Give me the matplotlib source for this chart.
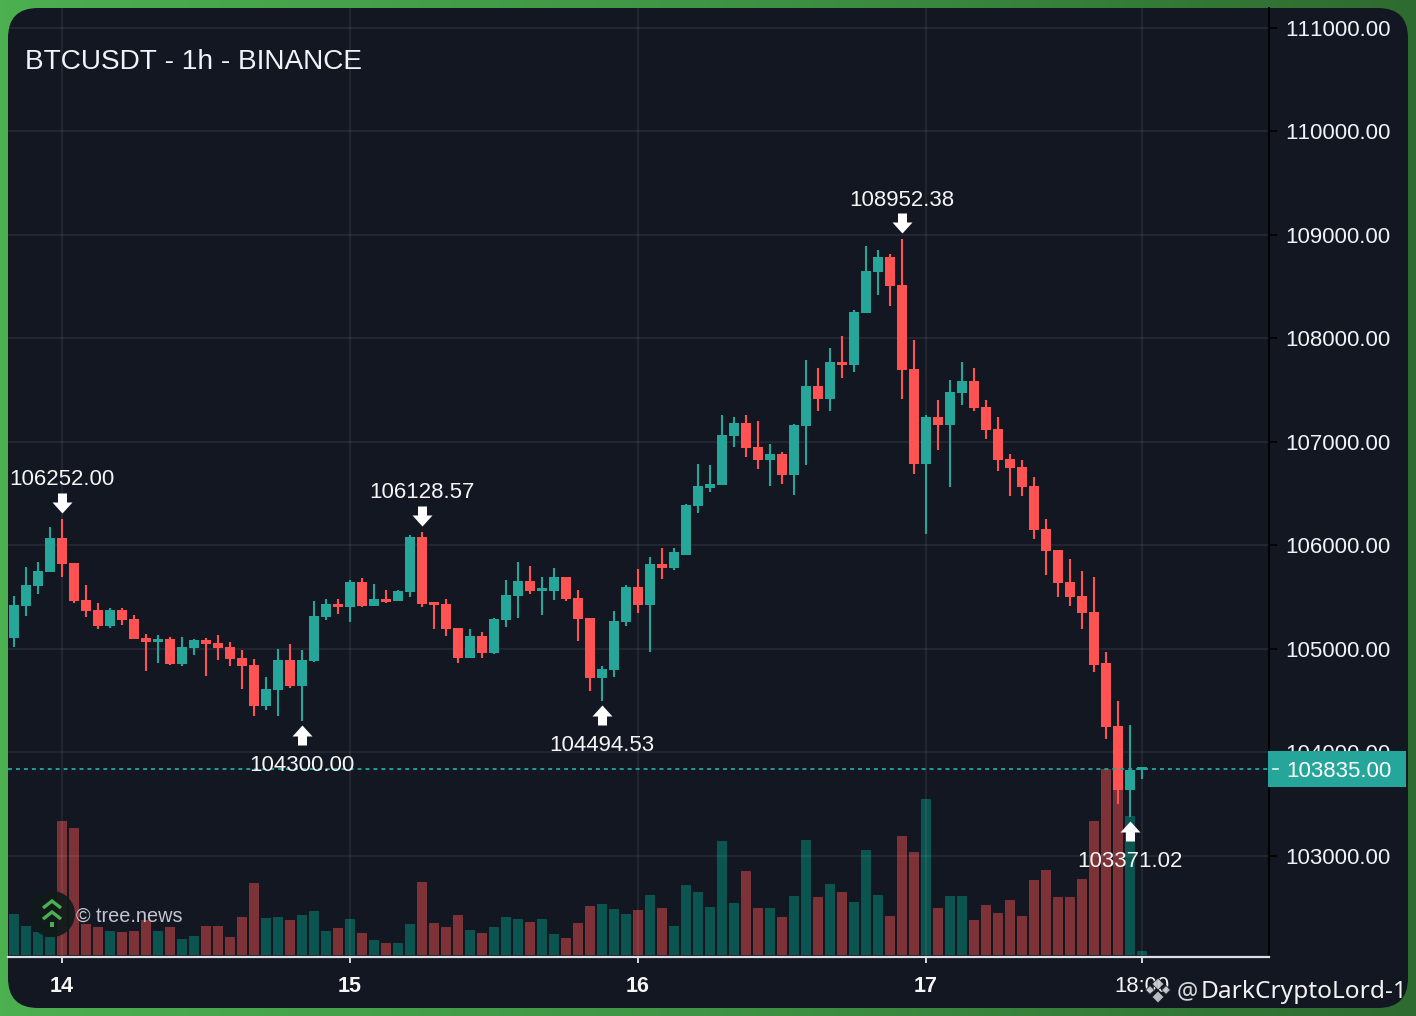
import numpy as np
import matplotlib
matplotlib.use("Agg")
import matplotlib.pyplot as plt
from matplotlib.colors import LinearSegmentedColormap
from matplotlib.patches import FancyBboxPatch, Rectangle, Circle, Polygon
from matplotlib.path import Path
from matplotlib.transforms import offset_copy, blended_transform_factory

plt.rcParams['font.family'] = ['Liberation Sans', 'DejaVu Sans']
plt.rcParams['text.kerning_factor'] = 10

# hourly candles, index 0 is the "14" tick
first_idx = -4
opens = [105106,105415,105608,105743,106064,105823,105470,105373,105219,105373,105286,105103,105064,105093,104852,105007,
 105084,105055,105016,104910,104843,104447,104601,104891,104640,104878,105306,105431,105405,105646,105412,105482,105460,
 105543,106074,105444,105431,105200,104910,105122,104955,105277,105508,105653,105556,105556,105691,105489,105296,104717,
 104794,105257,105595,105421,105817,105783,105908,106380,106556,106582,107055,107180,106949,106823,106881,106678,107151,
 107537,107412,107768,107739,108241,108636,108781,108511,107701,106785,107238,107161,107469,107585,107334,107122,106833,
 106756,106572,106158,105955,105646,105511,105357,104856,104248,103631,103830]
highs = [105508,105785,105833,106170,106252,105825,105611,105437,105389,105389,105325,105142,105129,105110,105110,105093,
 105100,105132,105065,104987,104897,104724,104994,105045,104987,105457,105476,105476,105662,105678,105621,105566,105566,
 106093,106128.57,105450,105476,105200,105187,105158,105296,105662,105836,105797,105691,105778,105691,105566,105296,104833,
 105363,105614,105769,105884,105971,105976,106400,106781,106772,107257,107238,107257,107199,106977,106900,107167,107788,
 107711,107903,108019,108270,108887,108849,108810,108952.38,107981,107257,107402,107595,107768,107711,107402,107238,106881,
 106823,106659,106254,105955,105868,105753,105695,104971,104489,104258,103852]
lows = [105019,105318,105531,105743,105695,105437,105309,105190,105203,105228,105090,104788,104865,104846,104827,104942,
 104737,104891,104833,104611,104351,104402,104351,104621,104300,104868,105277,105335,105257,105405,105410,105444,105458,
 105502,105405,105190,105126,104865,104905,104910,104949,105212,105299,105527,105325,105470,105460,105074,104592,104494.53,
 104730,105219,105344,104968,105669,105763,105900,106306,106508,106580,106949,106852,106736,106572,106592,106486,106775,
 107296,107296,107614,107672,108238,108415,108308,107412,106688,106109,106920,106563,107354,107296,107023,106717,106476,
 106476,106061,105714,105502,105415,105193,104769,104123,103496,103371.02,103737]
closes = [105421,105614,105749,106064,105817,105457,105367,105219,105373,105277,105093,105064,105093,104852,105016,105084,
 105045,105007,104900,104833,104447,104611,104891,104640,104891,105315,105431,105405,105646,105412,105479,105453,105560,
 106080,105431,105425,105190,104907,105122,104955,105286,105518,105653,105556,105566,105691,105476,105286,104717,104804,
 105267,105595,105421,105817,105778,105937,106389,106566,106592,107064,107180,106939,106823,106881,106678,107161,107537,
 107412,107768,107739,108251,108646,108781,108501,107691,106785,107238,107161,107479,107585,107325,107113,106823,106746,
 106563,106148,105945,105637,105502,105347,104846,104238,103631,103824,103835]
# volume, relative units only (no scale in the chart)
volumes = [41,29,23,18,134,127,31,28,24,23,24,35,24,28,16,19,29,29,18,38,72,37,38,35,40,44,24,27,36,22,15,12,12,31,73,32,28,40,
 25,22,28,38,36,33,36,21,17,32,49,51,46,41,45,60,47,29,70,63,48,114,52,84,47,47,38,59,115,58,71,63,53,105,60,39,119,103,156,
 47,59,59,35,50,42,55,39,75,85,58,58,76,134,186,175,139,4]

price_ticks = [103000,104000,105000,106000,107000,108000,109000,110000,111000]
time_ticks = [0,24,48,72,90]
time_labels = ['14','15','16','17','18:00']
last_price = 103835.00
title = 'BTCUSDT - 1h - BINANCE'

# (candle index, price, label, side)
marks = [(0,106252.00,'106252.00','high'),(20,104300.00,'104300.00','low'),(30,106128.57,'106128.57','high'),
         (45,104494.53,'104494.53','low'),(70,108952.38,'108952.38','high'),(89,103371.02,'103371.02','low')]

W,H = 1416,1016
up = '#26a69a'
down = '#ff5252'
up_vol = '#0c544f'
down_vol = '#7d3238'
panel = '#131722'
fs = 16

fig = plt.figure(figsize=(W/100,H/100),dpi=100)

# green frame and dark panel, in pixel coords
bg = fig.add_axes([0,0,1,1],zorder=0)
bg.set_xlim(0,W); bg.set_ylim(H,0); bg.axis('off')
cm = LinearSegmentedColormap.from_list('frame',['#4caf50','#3f9445','#2e6b30'])
bg.imshow(np.linspace(0,1,256).reshape(1,-1),cmap=cm,extent=(0,W,H,0),aspect='auto')
r = 30
bg.add_patch(FancyBboxPatch((8+r,8+r),1400-2*r,1000-2*r,boxstyle='round,pad=%d,rounding_size=%d'%(r,r),fc=panel,ec='none'))

left,right,top,bottom = 8,1269,8,957
rect = [left/W,1-bottom/H,(right-left)/W,(bottom-top)/H]

opens = np.array(opens); closes = np.array(closes); highs = np.array(highs); lows = np.array(lows)
idx = first_idx+np.arange(len(opens))
is_up = closes>=opens
xlim = (first_idx-0.5,first_idx-0.5+(right-left)/12)
ylim = (102020,111189)

# volume underneath
vax = fig.add_axes(rect,zorder=1)
vax.patch.set_visible(False)
vax.axis('off')
vax.bar(idx,volumes,width=0.85,color=[up_vol if u else down_vol for u in is_up],linewidth=0)
vax.set_xlim(*xlim); vax.set_ylim(-2,bottom-top-2)

ax = fig.add_axes(rect,zorder=2)
ax.patch.set_visible(False)
ax.set_xlim(*xlim); ax.set_ylim(*ylim)
ax.grid(True,color='white',alpha=0.08,linewidth=1.2)
ax.set_axisbelow(True)

colors = [up if u else down for u in is_up]
ax.vlines(idx,lows,highs,colors=colors,linewidth=1.5,zorder=3)
ax.bar(idx,np.maximum(np.abs(closes-opens),25),bottom=np.minimum(opens,closes),width=0.83,color=colors,linewidth=0,zorder=4)

ax.axhline(last_price,color=up,linewidth=1.3,dashes=(2.2,2.2),zorder=5)

ax.yaxis.tick_right()
ax.set_yticks(price_ticks)
ax.set_yticklabels(['%.2f'%p for p in price_ticks],fontsize=fs,color='#f0f3fa')
ax.tick_params(axis='y',length=5.8,width=1.2,color='black',pad=5.9)
ax.set_xticks(time_ticks)
ax.set_xticklabels(time_labels,fontsize=15.5,color='#f5f5f5')
for t in ax.get_xticklabels()[:4]:
    t.set_fontweight('bold')
ax.get_xticklabels()[4].set_fontsize(15.8)
ax.tick_params(axis='x',length=4.5,width=1.3,color='#e8e8e8',pad=9.2)
for s in ['top','left']:
    ax.spines[s].set_visible(False)
ax.spines['right'].set_color('black'); ax.spines['right'].set_linewidth(1.5)
ax.spines['bottom'].set_color('#dcdfe6'); ax.spines['bottom'].set_linewidth(1.6)

# last price flag on the axis
tr = blended_transform_factory(ax.transAxes,ax.transData)
ax.add_patch(Rectangle((1-1/1261,last_price-174),138/1261,348,transform=tr,clip_on=False,fc=up,ec='none',zorder=6))
ax.plot([1.003,1.0075],[last_price,last_price],transform=tr,clip_on=False,color='#dff5f2',lw=1.2,zorder=7)
ax.text(1+17/1261,last_price-22,'%.2f'%last_price,transform=tr,fontsize=fs,color='white',va='center',ha='left',zorder=7)

# high / low arrows with price labels
arrow = Path([(-4.5,10),(4.5,10),(4.5,1),(10,1),(0,-10),(-10,1),(-4.5,1),(-4.5,10)],closed=True)
arrow_up = Path(arrow.vertices*np.array([1,-1]),arrow.codes)
for k,p,lab,side in marks:
    if side=='high':
        off,tx,mk = 16,39,arrow
    else:
        off,tx,mk = -14,-44.5,arrow_up
    tf = offset_copy(ax.transData,fig=fig,y=off,units='dots')
    ax.plot([k],[p],marker=mk,ms=14.4,color='white',mew=0,transform=tf,zorder=8,clip_on=False)
    ax.annotate(lab,(k,p),xytext=(0,tx),textcoords='offset pixels',ha='center',va='center',fontsize=fs,color='#f5f5f5',zorder=9)

# text and logos on top, pixel coords again
ov = fig.add_axes([0,0,1,1],zorder=5)
ov.patch.set_visible(False)
ov.set_xlim(0,W); ov.set_ylim(H,0); ov.axis('off')
ov.text(25,62,title,fontsize=20.2,color='#f0f3fa',va='center',ha='left')
ov.text(76,916,'\u00a9 tree.news',fontsize=14.3,color='#c3c6cf',va='center',ha='left')

ov.add_patch(Circle((52,914),23,fc='#101b1b',ec='none',alpha=0.93))
for yy in (901,912):
    ov.plot([43,52,61],[yy+7,yy,yy+7],color='#4caf50',lw=2.4,solid_capstyle='butt',solid_joinstyle='miter')
ov.add_patch(Rectangle((50,922),4,5,fc='#4caf50',ec='none'))

for cx,cy,s in [(1158,984,6),(1150,990,4.5),(1166,990,4.5),(1158,997,6)]:
    ov.add_patch(Polygon([(cx,cy-s),(cx+s,cy),(cx,cy+s),(cx-s,cy)],closed=True,fc='#c9cacc',ec='#131722',lw=0.6,alpha=0.92))
ov.text(1187,992,'@',fontsize=17,color='#d8d8d8',va='center',ha='center',family='Noto Sans')
ov.text(1201,992,'DarkCryptoLord-1',fontsize=17.6,color='#f2f2f2',va='center',ha='left',family='Noto Sans')

fig.savefig('out.png',dpi=100,facecolor=panel)
